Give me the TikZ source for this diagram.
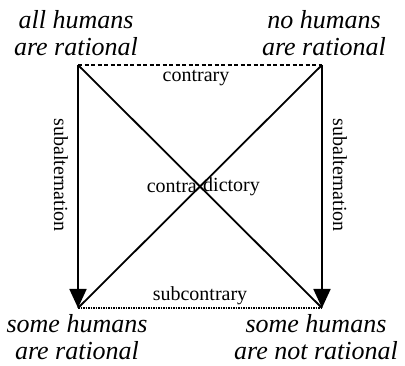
\documentclass[tikz,border=0pt]{standalone}
\usepackage{fontspec}
\setmainfont{Liberation Serif}
\usetikzlibrary{arrows.meta}
\begin{document}
\begin{tikzpicture}[x=1pt,y=1pt,
  prop/.style={align=center,font=\itshape\fontsize{26}{27}\selectfont,inner sep=0pt},
  rel/.style={font=\fontsize{20}{22}\selectfont,inner sep=1pt},
  thick line/.style={line width=1.8pt},
  sub/.style={line width=1.8pt,-{Triangle[length=19pt,width=17pt]}}]
\useasboundingbox (0,0) rectangle (405,366);
\coordinate (A) at (78,301);
\coordinate (E) at (322,301);
\coordinate (I) at (78,58);
\coordinate (O) at (322,58);
\node[prop] (tA) at (76,333) {all humans\\are rational};
\node[prop] (tE) at (324,333) {no humans\\are rational};
\node[prop] (tI) at (77,29) {some humans\\are rational};
\node[prop] (tO) at (316,29) {some humans\\are not rational};
\draw[line width=1.3pt,dash pattern=on 4pt off 2.5pt] (A) -- (E);
\draw[line width=1.3pt,dash pattern=on 1.5pt off 1pt] (I) -- (O);
\draw[thick line] (A) -- (O);
\draw[thick line] (E) -- (I);
\draw[sub] (A) -- (I);
\draw[sub] (E) -- (O);
\node[rel] (lc) at (196,288) {contrary};
\node[rel] (ls) at (200,70) {subcontrary};
\node[rel,rotate=-90] (l1) at (61,191) {subalternation};
\node[rel,rotate=-90] (l2) at (340,191) {subalternation};
\node[rel,anchor=east] (l3) at (198,179) {contra};
\node[rel,anchor=west] (l4) at (202,179) {dictory};
\end{tikzpicture}
\end{document}
